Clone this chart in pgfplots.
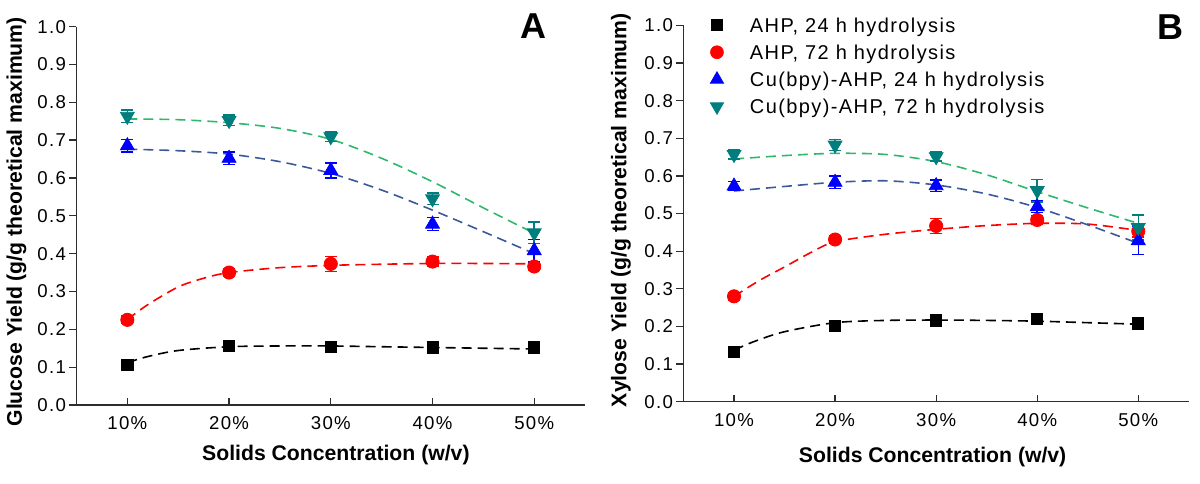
\documentclass[border=0pt]{standalone}
\usepackage{pgfplots}
\pgfplotsset{compat=1.18}
\usepackage{fontspec}
\setmainfont{Liberation Sans}
\newfontfamily\spacedfont[LetterSpace=7]{Liberation Sans}
\definecolor{myred}{RGB}{255,0,0}
\definecolor{myblue}{RGB}{0,0,255}
\definecolor{myteal}{RGB}{0,125,125}
\definecolor{fitblue}{RGB}{59,89,152}
\definecolor{fitgreen}{RGB}{46,184,107}
\definecolor{axisgray}{RGB}{45,45,45}
\pgfplotsset{
  common/.style={
    scale only axis, anchor=south west,
    xmin=5, xmax=55, ymin=0, ymax=1,
    axis lines=left, axis line style={-, line width=0.65pt, axisgray},
    xtick={10,20,30,40,50},
    xticklabels={10\%,20\%,30\%,40\%,50\%},
    ytick={0,0.1,0.2,0.3,0.4,0.5,0.6,0.7,0.8,0.9,1.0},
    xtick align=inside, ytick align=outside,
    major tick length=3.6pt,
    tick style={line width=0.65pt, axisgray},
    /pgf/number format/assume math mode=true,
    yticklabel style={/pgf/number format/fixed, /pgf/number format/fixed zerofill, /pgf/number format/precision=1},
    ticklabel style={font=\spacedfont\fontsize{9.3}{11}\selectfont, inner sep=0pt},
    xticklabel style={anchor=north, yshift=-5.8pt},
    yticklabel style={anchor=east, xshift=-1.5pt},
    label style={font=\bfseries\fontsize{10.6}{12}\selectfont},
    clip=false,
  },
  pts/.style={only marks, mark options={solid},
    /pgfplots/error bars/y dir=both, /pgfplots/error bars/y explicit,
    /pgfplots/error bars/error bar style={line width=0.75pt, solid},
    /pgfplots/error bars/error mark options={rotate=90, mark size=3pt, line width=0.75pt}},
  fit/.style={smooth, no marks, line width=0.8pt, dash pattern=on 5pt off 3pt, forget plot},
}
\begin{document}
\begin{tikzpicture}
\useasboundingbox (0,0) rectangle (600pt,241.5pt);
% ---------------- Panel A ----------------
\begin{axis}[common, at={(38.25pt,39pt)}, width=254.3pt, height=189.2pt,
  xlabel={Solids Concentration (w/v)},
  ylabel={Glucose Yield (g/g theoretical maximum)},
  xlabel style={at={(axis description cs:0.510,-0.132)}, anchor=center},
  ylabel style={at={(axis description cs:-0.118,0.484)}, anchor=center},
]
\addplot[fit, black] coordinates {(10,0.112)(12,0.128)(15,0.144)(20,0.154)(25,0.156)(30,0.156)(35,0.154)(40,0.152)(45,0.150)(50,0.148)};
\addplot[fit, myred] coordinates {(10,0.226)(12,0.265)(15,0.312)(17.5,0.335)(20,0.350)(25,0.363)(30,0.369)(35,0.372)(40,0.374)(45,0.374)(50,0.373)};
\addplot[fit, fitblue] coordinates {(10,0.676)(15,0.672)(20,0.663)(25,0.643)(30,0.612)(35,0.568)(40,0.515)(45,0.458)(50,0.400)};
\addplot[fit, fitgreen] coordinates {(10,0.756)(15,0.754)(20,0.746)(25,0.731)(30,0.702)(35,0.652)(40,0.590)(45,0.521)(50,0.454)};
\addplot[pts, black, mark=square*, mark size=2.8pt, forget plot] table[x=x, y=y, y error=e] {
x y e
10 0.107 0.008
20 0.157 0.008
30 0.154 0.010
40 0.152 0.008
50 0.152 0.008
};
\addplot[pts, myred, mark=*, mark size=3.3pt, forget plot] table[x=x, y=y, y error=e] {
x y e
10 0.225 0.010
20 0.350 0.010
30 0.373 0.020
40 0.379 0.012
50 0.366 0.010
};
\addplot[pts, myblue, mark=triangle*, mark size=4pt, forget plot] table[x=x, y=y, y error=e] {
x y e
10 0.685 0.017
20 0.652 0.017
30 0.620 0.020
40 0.478 0.017
50 0.408 0.030
};
\addplot[pts, myteal, mark=triangle*, mark size=4pt, mark options={solid, rotate=180}, forget plot] table[x=x, y=y, y error=e] {
x y e
10 0.763 0.017
20 0.752 0.014
30 0.709 0.013
40 0.545 0.015
50 0.455 0.028
};
\node[font=\bfseries\fontsize{18}{20}\selectfont, inner sep=0pt] at (axis description cs:0.898,1.0) {A};
\end{axis}
% ---------------- Panel B ----------------
\begin{axis}[common, at={(341.75pt,40.65pt)}, width=252.65pt, height=188.15pt,
  xlabel={Solids Concentration (w/v)},
  ylabel={Xylose Yield (g/g theoretical maximum)},
  xlabel style={at={(axis description cs:0.493,-0.148)}, anchor=center},
  ylabel style={at={(axis description cs:-0.124,0.509)}, anchor=center},
  legend cell align=left,
  legend style={draw=none, fill=none, inner sep=0pt, outer sep=0pt,
    row sep=3.6pt, column sep=0pt,
    at={(axis description cs:0.0425,1.0276)}, anchor=north west,
    nodes={inner sep=0pt, text height=7.2pt, text depth=0pt,
      font=\spacedfont\fontsize{10}{12}\selectfont}},
  legend image code/.code={\path[draw=none, fill=none] (-6pt,-5pt) rectangle (16.5pt,5pt);
    \draw[#1] plot coordinates {(0pt,0pt)};},
]
\addplot[fit, black] coordinates {(10,0.137)(12,0.160)(15,0.186)(20,0.210)(25,0.216)(30,0.217)(35,0.216)(40,0.214)(45,0.210)(50,0.206)};
\addplot[fit, myred] coordinates {(10,0.280)(12.5,0.322)(15,0.358)(17.5,0.395)(20,0.425)(25,0.445)(30,0.458)(35,0.468)(40,0.474)(45,0.472)(50,0.455)};
\addplot[fit, fitblue] coordinates {(10,0.560)(15,0.572)(20,0.583)(25,0.587)(30,0.576)(35,0.552)(40,0.516)(45,0.470)(50,0.421)};
\addplot[fit, fitgreen] coordinates {(10,0.645)(15,0.654)(20,0.660)(25,0.657)(30,0.638)(35,0.603)(40,0.558)(45,0.515)(50,0.474)};
\addplot[pts, black, mark=square*, mark size=2.8pt, forget plot] table[x=x, y=y, y error=e] {
x y e
10 0.133 0.008
20 0.201 0.008
30 0.216 0.012
40 0.219 0.010
50 0.208 0.007
};
\addplot[pts, myred, mark=*, mark size=3.3pt, forget plot] table[x=x, y=y, y error=e] {
x y e
10 0.280 0.010
20 0.431 0.010
30 0.467 0.020
40 0.483 0.012
50 0.453 0.015
};
\addplot[pts, myblue, mark=triangle*, mark size=4pt, forget plot] table[x=x, y=y, y error=e] {
x y e
10 0.573 0.012
20 0.583 0.017
30 0.574 0.015
40 0.518 0.015
50 0.428 0.037
};
\addplot[pts, myteal, mark=triangle*, mark size=4pt, mark options={solid, rotate=180}, forget plot] table[x=x, y=y, y error=e] {
x y e
10 0.657 0.012
20 0.682 0.015
30 0.651 0.012
40 0.561 0.030
50 0.463 0.033
};
\addlegendimage{only marks, black, mark=square*, mark size=2.7pt}
\addlegendentry{AHP, 24 h hydrolysis}
\addlegendimage{only marks, myred, mark=*, mark size=3.2pt}
\addlegendentry{AHP, 72 h hydrolysis}
\addlegendimage{only marks, myblue, mark=triangle*, mark size=3.8pt}
\addlegendentry{Cu(bpy)-AHP, 24 h hydrolysis}
\addlegendimage{only marks, myteal, mark=triangle*, mark size=3.8pt, mark options={rotate=180}}
\addlegendentry{Cu(bpy)-AHP, 72 h hydrolysis}
\node[font=\bfseries\fontsize{18}{20}\selectfont, inner sep=0pt] at (axis description cs:0.964,0.996) {B};
\end{axis}
\end{tikzpicture}
\end{document}
